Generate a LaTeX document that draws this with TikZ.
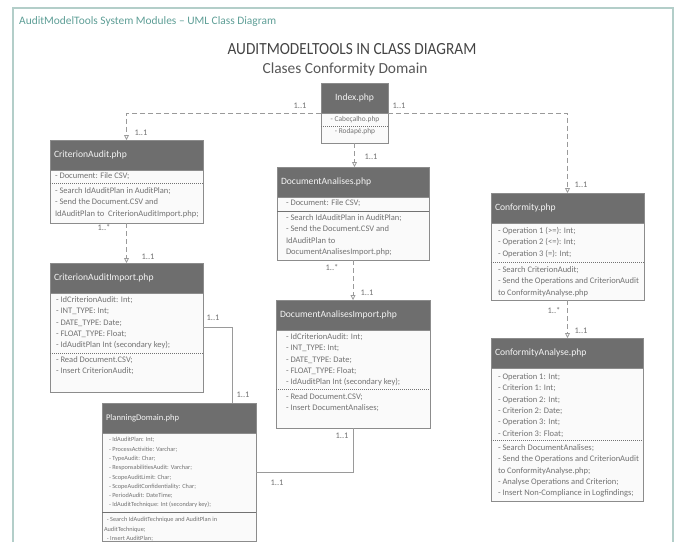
\documentclass[tikz,border=0pt]{standalone}
\usepackage{fontspec}
\setmainfont{Carlito}
\usetikzlibrary{arrows.meta}

\definecolor{framec}{HTML}{B3CEC9}
\definecolor{captc}{HTML}{5E9E96}
\definecolor{titlec}{HTML}{444444}
\definecolor{hdrc}{HTML}{6E6E6E}
\definecolor{edgec}{HTML}{8C8C8C}
\definecolor{txtc}{HTML}{727272}
\definecolor{fillc}{HTML}{FAFAFA}
\definecolor{wirec}{HTML}{9A9A9A}

\tikzset{
  cbox/.style={draw=edgec, fill=fillc, line width=0.8pt, inner sep=0pt, outer sep=0pt, anchor=north west},
  chead/.style={draw=edgec, fill=hdrc, text=white!92!gray, line width=0.8pt, inner xsep=4pt, inner ysep=0pt,
    outer sep=0pt, anchor=north west, align=left, minimum height=30pt, font=\fontsize{9.6}{11}\selectfont},
  ctext/.style={text=txtc, inner sep=0pt, outer sep=0pt, anchor=north west, align=left, font=\fontsize{8.5}{11.4}\selectfont},
  csmall/.style={ctext, font=\fontsize{6.3}{9.3}\selectfont},
  sepdot/.style={draw=txtc, line width=0.6pt, dash pattern=on 1pt off 1pt},
  sepline/.style={draw=txtc, line width=0.6pt},
  dep/.style={draw=wirec, line width=0.8pt, dash pattern=on 5pt off 3pt, -{Triangle[open, length=5pt, width=5pt]}},
  assoc/.style={draw=wirec, line width=0.8pt},
  mult/.style={text=txtc, font=\fontsize{8.5}{9}\selectfont, inner sep=0pt},
}

\begin{document}
\begin{tikzpicture}[x=1pt, y=-1pt]
\useasboundingbox (0,0) rectangle (679,542);

% outer frame and captions
\draw[framec, line width=1.5pt] (13,542) -- (13,8) -- (673,8) -- (673,542);
\node[text=captc, font=\fontsize{11.4}{13}\selectfont, anchor=west, inner sep=0pt] (cap) at (19,21.5)
  {AuditModelTools System Modules -- UML Class Diagram};
\node[text=titlec, font=\fontsize{17}{20}\selectfont, inner sep=0pt] (title) at (352,49)
  {\scalebox{0.9}[1]{AUDITMODELTOOLS IN CLASS DIAGRAM}};
\node[text=titlec!90!white, font=\fontsize{15.4}{18}\selectfont, inner sep=0pt] (subtitle) at (345,69)
  {Clases Conformity Domain};

% Index.php
\node[cbox, minimum width=67pt, minimum height=60pt] (ix) at (321,83) {};
\node[chead, align=center, text width=59pt] (ix-h) at (321,83) {Index.php};
\node[ctext, anchor=north, align=center, font=\fontsize{7.4}{12}\selectfont] (ix-a) at (355,113.5)
  {\strut- Cabeçalho.php\\\strut- Rodapé.php};
\draw[sepdot] (ix.west |- 0,126) -- (ix.east |- 0,126);

% CriterionAudit.php
\node[cbox, minimum width=153pt, minimum height=83pt] (ca) at (50,140) {};
\node[chead, text width=145pt] (ca-h) at (50,140) {CriterionAudit.php};
\node[ctext] (ca-a) at (55,170.3) {\strut- Document: File CSV;};
\draw[sepdot] (ca.west |- 0,183) -- (ca.east |- 0,183);
\node[ctext] (ca-m) at (55,185.3)
  {\strut- Search IdAuditPlan in AuditPlan;\\
   \strut- Send the Document.CSV and\\
   \strut IdAuditPlan to\ \ CriterionAuditImport.php;};

% CriterionAuditImport.php
\node[cbox, minimum width=153pt, minimum height=129pt] (cai) at (50,263) {};
\node[chead, text width=145pt] (cai-h) at (50,263) {CriterionAuditImport.php};
\node[ctext] (cai-a) at (56,294.3)
  {\strut- IdCriterionAudit: Int;\\
   \strut- INT\_TYPE: Int;\\
   \strut- DATE\_TYPE: Date;\\
   \strut- FLOAT\_TYPE: Float;\\
   \strut- IdAuditPlan Int (secondary key);};
\draw[sepdot] (cai.west |- 0,353) -- (cai.east |- 0,353);
\node[ctext] (cai-m) at (56,354.3)
  {\strut- Read Document.CSV;\\
   \strut- Insert CriterionAudit;};

% PlanningDomain.php
\node[cbox, minimum width=154pt, minimum height=138pt] (pd) at (102,403) {};
\node[chead, text width=146pt, font=\fontsize{8.6}{10}\selectfont] (pd-h) at (102,403) {PlanningDomain.php};
\node[csmall] (pd-a) at (109,435.3)
  {\strut- IdAuditPlan: Int;\\
   \strut- ProcessActivitie: Varchar;\\
   \strut- TypeAudit: Char;\\
   \strut- ResponsabilitiesAudit: Varchar;\\
   \strut- ScopeAuditLimit: Char;\\
   \strut- ScopeAuditConfidentiality: Char;\\
   \strut- PeriodAudit: DateTime;\\
   \strut- IdAuditTechnique: Int (secondary key);};
\draw[sepline] (pd.west |- 0,512) -- (pd.east |- 0,512);
\node[csmall] (pd-m) at (104,515.3)
  {\strut\ \ - Search IdAuditTechnique and AuditPlan in\\
   \strut AuditTechnique;\\
   \strut\ \ - Insert AuditPlan;};

% DocumentAnalises.php
\node[cbox, minimum width=152pt, minimum height=93pt] (da) at (277,167) {};
\node[chead, text width=144pt] (da-h) at (277,167) {DocumentAnalises.php};
\node[ctext] (da-a) at (286,197.3) {\strut- Document: File CSV;};
\draw[sepline] (da.west |- 0,211) -- (da.east |- 0,211);
\node[ctext] (da-m) at (286,212.3)
  {\strut- Search IdAuditPlan in AuditPlan;\\
   \strut- Send the Document.CSV and\\
   \strut IdAuditPlan to\\
   \strut DocumentAnalisesImport.php;};

% DocumentAnalisesImport.php
\node[cbox, minimum width=154pt, minimum height=128pt] (dai) at (276,300) {};
\node[chead, text width=146pt] (dai-h) at (276,300) {DocumentAnalisesImport.php};
\node[ctext] (dai-a) at (286,331.3)
  {\strut- IdCriterionAudit: Int;\\
   \strut- INT\_TYPE: Int;\\
   \strut- DATE\_TYPE: Date;\\
   \strut- FLOAT\_TYPE: Float;\\
   \strut- IdAuditPlan Int (secondary key);};
\draw[sepdot] (dai.west |- 0,389) -- (dai.east |- 0,389);
\node[ctext] (dai-m) at (286,391.3)
  {\strut- Read Document.CSV;\\
   \strut- Insert DocumentAnalises;};

% Conformity.php
\node[cbox, minimum width=153pt, minimum height=107pt] (cf) at (491,193) {};
\node[chead, text width=145pt] (cf-h) at (491,193) {Conformity.php};
\node[ctext] (cf-a) at (498,225.3)
  {\strut- Operation 1 (>=): Int;\\
   \strut- Operation 2 (<=): Int;\\
   \strut- Operation 3 (=): Int;};
\draw[sepdot] (cf.west |- 0,262) -- (cf.east |- 0,262);
\node[ctext] (cf-m) at (498,264.3)
  {\strut- Search CriterionAudit;\\
   \strut- Send the Operations and CriterionAudit\\
   \strut to ConformityAnalyse.php};

% ConformityAnalyse.php
\node[cbox, minimum width=152pt, minimum height=163pt] (cfa) at (491,338) {};
\node[chead, text width=144pt] (cfa-h) at (491,338) {ConformityAnalyse.php};
\node[ctext] (cfa-a) at (498,371.3)
  {\strut- Operation 1: Int;\\
   \strut- Criterion 1: Int;\\
   \strut- Operation 2: Int;\\
   \strut- Criterion 2: Date;\\
   \strut- Operation 3: Int;\\
   \strut- Criterion 3: Float;};
\draw[sepdot] (cfa.west |- 0,440) -- (cfa.east |- 0,440);
\node[ctext] (cfa-m) at (498,442.3)
  {\strut- Search DocumentAnalises;\\
   \strut- Send the Operations and CriterionAudit\\
   \strut to ConformityAnalyse.php;\\
   \strut- Analyse Operations and Criterion;\\
   \strut- Insert Non-Compliance in Logfindings;};

% dependencies (dashed, open triangle heads)
\draw[dep] (ix-h.south west) -| (ca.north);
\draw[dep] (ix-h.south east) -| (cf.north);
\draw[dep] (ix.south) -- (ix.south |- da.north);
\draw[dep] (ca.south) -- (cai.north);
\draw[dep] (da.south) -- (da.south |- dai.north);
\draw[dep] (cf.south) -- (cf.south |- cfa.north);

% associations with PlanningDomain
\coordinate (j1) at (232,327);
\coordinate (j2) at (353,472);
\draw[assoc] (cai.east |- j1) -- (j1) -- (pd.north -| j1);
\draw[assoc] (dai.south -| j2) -- (j2) -- (pd.east |- j2);

% multiplicities
\node[mult] (m1) at (300,106) {1..1};
\node[mult] (m2) at (399,106) {1..1};
\node[mult] (m3) at (141,133) {1..1};
\node[mult] (m4) at (371,157) {1..1};
\node[mult] (m5) at (104,228) {1..*};
\node[mult] (m6) at (148,257) {1..1};
\node[mult] (m7) at (332,268) {1..*};
\node[mult] (m8) at (367,293) {1..1};
\node[mult] (m9) at (581,185) {1..1};
\node[mult] (m10) at (554,311) {1..*};
\node[mult] (m11) at (581,331) {1..1};
\node[mult] (m12) at (213,318) {1..1};
\node[mult] (m13) at (243,395) {1..1};
\node[mult] (m14) at (342,436) {1..1};
\node[mult] (m15) at (277,483) {1..1};
\end{tikzpicture}
\end{document}
